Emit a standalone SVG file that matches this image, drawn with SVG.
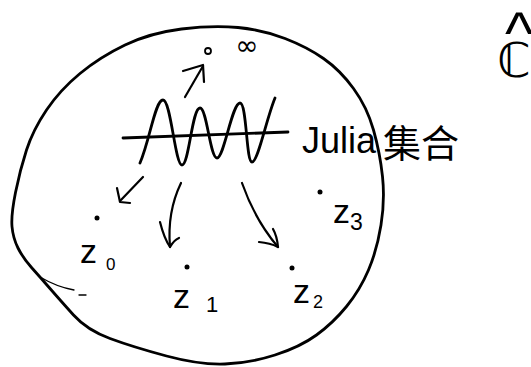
<svg xmlns="http://www.w3.org/2000/svg" width="531" height="367" viewBox="0 0 531 367">
<style>
.ink{fill:none;stroke:#000;stroke-linecap:round;stroke-linejoin:round}
.thick{stroke-width:2.8}
.thin{stroke-width:2.2}
.lbl{font-family:"Liberation Sans","DejaVu Sans",sans-serif;fill:#000}
.sym{font-family:"DejaVu Sans",sans-serif;fill:#000}
.dot{fill:#000}
</style>
<rect width="531" height="367" fill="#fff"/>
<g id="sphere">
<path class="ink thick" d="M 238,27.5 Q 263,30 285,38.5 Q 307,47 323.5,58.5 Q 340,70 353.5,88.5 Q 367,107 373.5,130 Q 380,153 382.5,176.5 Q 385,200 381,225 Q 377,250 368.5,270 Q 360,290 346.5,306.5 Q 333,323 316.5,335 Q 300,347 275,355 Q 250,363 225,364 Q 200,365 166.5,356 Q 133,347 110,338.5 Q 87,330 73.5,315 Q 60,300 50,288.5 Q 40,277 31.5,267.5 Q 23,258 18,248 Q 13,238 12,226.5 Q 11,215 15.5,192.5 Q 20,170 26.5,150 Q 33,130 46.5,110 Q 60,90 80,73.5 Q 100,57 125,45 Q 150,33 181.5,29 Q 213,25 238,27.5 Z"/>
<path class="ink" stroke-width="1.3" d="M 40,277 Q 57,287 74,290"/>
<path class="ink" stroke-width="1.3" d="M 79,295 L 86,295"/>
</g>
<g id="hat-C">
<text class="lbl" x="519" y="54" font-size="60" text-anchor="middle">^</text>
<text class="sym" x="497" y="77" font-size="48">ℂ</text>
</g>
<g id="infinity">
<circle cx="208" cy="51" r="3" fill="none" stroke="#000" stroke-width="1.8"/>
<text class="sym" x="247" y="55" font-size="28" text-anchor="middle">∞</text>
</g>
<g id="julia">
<path class="ink thick" d="M 123,138 L 288,132"/>
<path class="ink thick" d="M 140,163 C 150,140 155,100 163,100 C 171,100 175,165 182,165 C 189,165 192,108 200,108 C 207,108 210,158 217,158 C 224,158 232,103 240,103 C 247,103 246,162 252,162 C 258,162 266,120 275,98"/>
<text class="lbl" x="302" y="153" font-size="36">Julia<tspan x="383" y="157" font-size="38" style="font-family:'Noto Sans CJK SC',sans-serif">集合</tspan></text>
</g>
<g id="z0">
<circle class="dot" cx="97" cy="218" r="2.5"/>
<text class="lbl" x="80" y="263" font-size="34">z<tspan x="106" y="270" font-size="17">0</tspan></text>
</g>
<g id="z1">
<circle class="dot" cx="187" cy="267" r="2.5"/>
<text class="lbl" x="173" y="308" font-size="34">z<tspan x="206" y="312" font-size="22">1</tspan></text>
</g>
<g id="z2">
<circle class="dot" cx="292" cy="268" r="2.5"/>
<text class="lbl" x="293" y="303" font-size="34">z<tspan x="313" y="308" font-size="18">2</tspan></text>
</g>
<g id="z3">
<circle class="dot" cx="320" cy="192" r="2.5"/>
<text class="lbl" x="333" y="223" font-size="34">z<tspan x="350" y="230" font-size="23">3</tspan></text>
</g>
<g id="connectors">
<path class="ink thin" d="M 185,97 L 203,66"/>
<path class="ink thin" d="M 183,71 L 203,65 L 204,82"/>
<path class="ink thin" d="M 143,177 L 120,201"/>
<path class="ink thin" d="M 117,188 L 120,202 L 130,203"/>
<path class="ink thin" d="M 181,183 Q 167,212 170,247"/>
<path class="ink thin" d="M 160,222 Q 164,238 170,247 Q 174,240 179,238"/>
<path class="ink thin" d="M 242,183 Q 255,220 278,247"/>
<path class="ink thin" d="M 259,242 Q 270,243 278,247 Q 277,236 273,229"/>
</g>
</svg>
